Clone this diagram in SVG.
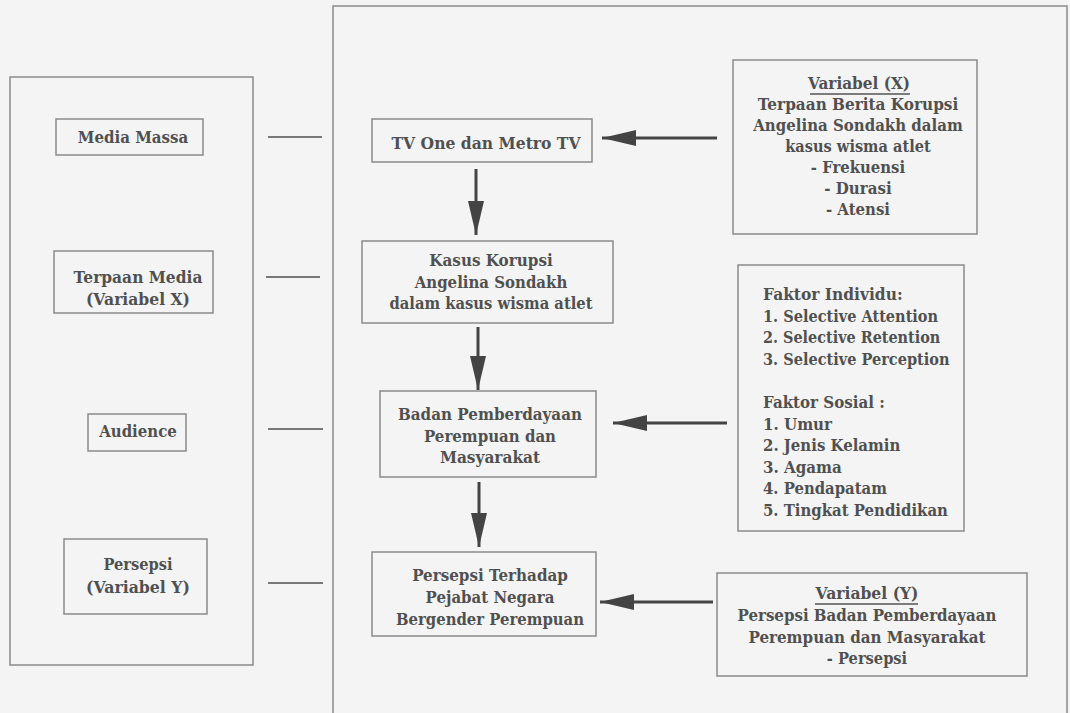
<svg xmlns="http://www.w3.org/2000/svg" width="1070" height="713" viewBox="0 0 1070 713">
<defs>
<style>
.box{fill:none;stroke:#8a8a8a;stroke-width:1.5}
.t{font-family:'DejaVu Serif',serif;font-size:17.5px;font-weight:bold;fill:#505050}
.c{text-anchor:middle}
.ul{stroke:#555;stroke-width:1.3}
.arr{stroke:#444;stroke-width:3;fill:none;marker-end:url(#ah)}
.lnk{stroke:#777;stroke-width:2}
</style>
<marker id="ah" viewBox="0 0 34 16" markerWidth="34" markerHeight="16" refX="34" refY="8" orient="auto" markerUnits="userSpaceOnUse">
<path d="M0,0 L34,8 L0,16 Z" fill="#444"/>
</marker>
</defs>
<rect width="1070" height="713" fill="#f4f4f4"/>
<g id="frame-left"><rect class="box" x="10" y="77" width="243" height="588"/></g>
<g id="frame-right"><rect class="box" x="333" y="6" width="734" height="720"/></g>

<g id="media-massa">
<rect class="box" x="56" y="119" width="147" height="36"/>
<text class="t c" x="133" y="143" textLength="110.5" lengthAdjust="spacingAndGlyphs">Media Massa</text>
</g>
<g id="terpaan-media">
<rect class="box" x="54" y="251" width="159" height="62"/>
<text class="t c" x="138" y="283" textLength="128.8" lengthAdjust="spacingAndGlyphs">Terpaan Media</text>
<text class="t c" x="138" y="305" textLength="104" lengthAdjust="spacingAndGlyphs">(Variabel X)</text>
</g>
<g id="audience">
<rect class="box" x="88" y="414" width="98" height="37"/>
<text class="t c" x="138" y="437" textLength="77.6" lengthAdjust="spacingAndGlyphs">Audience</text>
</g>
<g id="persepsi-y">
<rect class="box" x="64" y="539" width="143" height="75"/>
<text class="t c" x="138" y="570" textLength="69" lengthAdjust="spacingAndGlyphs">Persepsi</text>
<text class="t c" x="138" y="593" textLength="104" lengthAdjust="spacingAndGlyphs">(Variabel Y)</text>
</g>

<g id="tv-one">
<rect class="box" x="372" y="119" width="220" height="43"/>
<text class="t c" x="486" y="149" textLength="189" lengthAdjust="spacingAndGlyphs">TV One dan Metro TV</text>
</g>
<g id="kasus-korupsi">
<rect class="box" x="362" y="241" width="251" height="82"/>
<text class="t c" x="491" y="266" textLength="123.4" lengthAdjust="spacingAndGlyphs">Kasus Korupsi</text>
<text class="t c" x="491" y="288" textLength="152.6" lengthAdjust="spacingAndGlyphs">Angelina Sondakh</text>
<text class="t c" x="491" y="309" textLength="203" lengthAdjust="spacingAndGlyphs">dalam kasus wisma atlet</text>
</g>
<g id="badan">
<rect class="box" x="380" y="391" width="216" height="86"/>
<text class="t c" x="490" y="420" textLength="184" lengthAdjust="spacingAndGlyphs">Badan Pemberdayaan</text>
<text class="t c" x="490" y="442" textLength="132" lengthAdjust="spacingAndGlyphs">Perempuan dan</text>
<text class="t c" x="490" y="463" textLength="100.2" lengthAdjust="spacingAndGlyphs">Masyarakat</text>
</g>
<g id="persepsi-terhadap">
<rect class="box" x="372" y="552" width="224" height="84"/>
<text class="t c" x="490" y="581" textLength="155.7" lengthAdjust="spacingAndGlyphs">Persepsi Terhadap</text>
<text class="t c" x="490" y="603" textLength="128.8" lengthAdjust="spacingAndGlyphs">Pejabat Negara</text>
<text class="t c" x="490" y="625" textLength="188" lengthAdjust="spacingAndGlyphs">Bergender Perempuan</text>
</g>

<g id="variabel-x">
<rect class="box" x="733" y="60" width="244" height="174"/>
<text class="t c" x="859" y="89" textLength="102" lengthAdjust="spacingAndGlyphs">Variabel (X)</text>
<line class="ul" x1="810" y1="94" x2="910" y2="94"/>
<text class="t c" x="858" y="110" textLength="200.5" lengthAdjust="spacingAndGlyphs">Terpaan Berita Korupsi</text>
<text class="t c" x="858" y="131" textLength="209.5" lengthAdjust="spacingAndGlyphs">Angelina Sondakh dalam</text>
<text class="t c" x="858" y="152" textLength="145.5" lengthAdjust="spacingAndGlyphs">kasus wisma atlet</text>
<text class="t c" x="858" y="173" textLength="94.3" lengthAdjust="spacingAndGlyphs">- Frekuensi</text>
<text class="t c" x="858" y="194" textLength="67.4" lengthAdjust="spacingAndGlyphs">- Durasi</text>
<text class="t c" x="858" y="215" textLength="64.1" lengthAdjust="spacingAndGlyphs">- Atensi</text>
</g>
<g id="faktor">
<rect class="box" x="738" y="265" width="226" height="266"/>
<text class="t" x="763" y="300" textLength="139.6" lengthAdjust="spacingAndGlyphs">Faktor Individu:</text>
<text class="t" x="763" y="321.6" textLength="175.1" lengthAdjust="spacingAndGlyphs">1. Selective Attention</text>
<text class="t" x="763" y="343.2" textLength="177.3" lengthAdjust="spacingAndGlyphs">2. Selective Retention</text>
<text class="t" x="763" y="364.8" textLength="186.5" lengthAdjust="spacingAndGlyphs">3. Selective Perception</text>
<text class="t" x="763" y="408" textLength="121.8" lengthAdjust="spacingAndGlyphs">Faktor Sosial :</text>
<text class="t" x="763" y="429.6" textLength="69" lengthAdjust="spacingAndGlyphs">1. Umur</text>
<text class="t" x="763" y="451.2" textLength="137.4" lengthAdjust="spacingAndGlyphs">2. Jenis Kelamin</text>
<text class="t" x="763" y="472.8" textLength="78.7" lengthAdjust="spacingAndGlyphs">3. Agama</text>
<text class="t" x="763" y="494.4" textLength="123.9" lengthAdjust="spacingAndGlyphs">4. Pendapatam</text>
<text class="t" x="763" y="516" textLength="184.9" lengthAdjust="spacingAndGlyphs">5. Tingkat Pendidikan</text>
</g>
<g id="variabel-y">
<rect class="box" x="717" y="573" width="310" height="103"/>
<text class="t c" x="867" y="599" textLength="103" lengthAdjust="spacingAndGlyphs">Variabel (Y)</text>
<line class="ul" x1="815" y1="604" x2="918" y2="604"/>
<text class="t c" x="867" y="621" textLength="259" lengthAdjust="spacingAndGlyphs">Persepsi Badan Pemberdayaan</text>
<text class="t c" x="867" y="643" textLength="237.1" lengthAdjust="spacingAndGlyphs">Perempuan dan Masyarakat</text>
<text class="t c" x="867" y="664" textLength="80.3" lengthAdjust="spacingAndGlyphs">- Persepsi</text>
</g>

<g id="connectors">
<line class="lnk" x1="268" y1="137" x2="322" y2="137"/>
<line class="lnk" x1="266" y1="277" x2="320" y2="277"/>
<line class="lnk" x1="268" y1="429" x2="323" y2="429"/>
<line class="lnk" x1="268" y1="583" x2="323" y2="583"/>
<path class="arr" d="M717,138 L602,138"/>
<path class="arr" d="M476,169 L476,235"/>
<path class="arr" d="M478,327 L478,390"/>
<path class="arr" d="M479,482 L479,547"/>
<path class="arr" d="M727,423 L613,423"/>
<path class="arr" d="M713,602 L600,602"/>
</g>
</svg>
